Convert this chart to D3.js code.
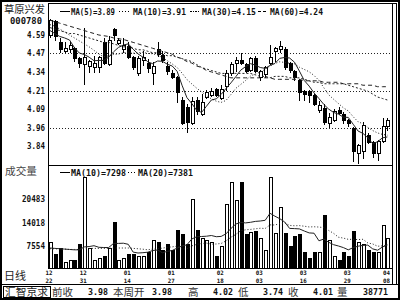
<!DOCTYPE html>
<html>
<head>
<meta charset="utf-8">
<script src="https://cdn.jsdelivr.net/npm/d3@7/dist/d3.min.js"></script>
<style>
    body { margin: 0; background: #fff; }
    svg { display: block; }
    .num { font-family: "DejaVu Sans Mono", monospace; font-weight: bold; fill: #111; }
    .cjk { font-family: "Noto Sans CJK SC", sans-serif; }
</style>
</head>
<body>
<svg id="chart" width="400" height="300"></svg>
<script>
// Daily candles, 12/22 .. 04/08
const opens = [4.59,4.68,4.54,4.48,4.49,4.50,4.43,4.39,4.38,4.37,
    4.37,4.54,4.39,4.63,4.53,4.49,4.51,4.44,4.33,4.42,
    4.40,4.33,4.49,4.45,4.38,4.33,4.30,4.15,4.10,3.99,
    4.15,4.05,4.17,4.18,4.22,4.16,4.24,4.33,4.40,4.42,
    4.39,4.35,4.43,4.30,4.32,4.40,4.48,4.49,4.49,4.40,
    4.34,4.28,4.21,4.21,4.18,4.08,4.09,3.99,4.01,4.08,
    4.05,4.01,3.96,3.79,3.80,3.91,3.86,3.79,3.87,3.97];
const highs = [4.70,4.69,4.57,4.54,4.55,4.51,4.44,4.64,4.42,4.45,
    4.45,4.57,4.58,4.64,4.57,4.57,4.54,4.45,4.45,4.48,
    4.43,4.41,4.54,4.48,4.41,4.35,4.31,4.17,4.12,4.17,
    4.17,4.19,4.22,4.23,4.23,4.25,4.35,4.41,4.44,4.47,
    4.40,4.44,4.45,4.35,4.38,4.52,4.51,4.55,4.51,4.41,
    4.35,4.29,4.22,4.22,4.19,4.14,4.12,4.06,4.09,4.10,
    4.07,4.02,3.97,3.85,4.00,3.93,3.87,3.88,4.03,4.03];
const lows = [4.57,4.55,4.47,4.47,4.47,4.41,4.37,4.25,4.33,4.33,
    4.33,4.39,4.38,4.55,4.52,4.47,4.43,4.35,4.31,4.38,
    4.33,4.25,4.44,4.40,4.32,4.29,4.13,3.98,3.93,3.98,
    4.05,4.04,4.16,4.17,4.17,4.15,4.21,4.31,4.34,4.39,
    4.33,4.34,4.33,4.28,4.30,4.39,4.41,4.47,4.35,4.33,
    4.28,4.14,4.14,4.13,4.11,4.06,3.98,3.96,4.00,4.05,
    3.99,3.97,3.73,3.72,3.75,3.85,3.76,3.74,3.86,3.94];
const closes = [4.69,4.58,4.49,4.50,4.52,4.43,4.40,4.44,4.41,4.40,
    4.44,4.40,4.55,4.59,4.55,4.52,4.44,4.37,4.43,4.44,
    4.36,4.38,4.46,4.42,4.34,4.30,4.20,3.99,4.00,4.14,
    4.07,4.13,4.20,4.21,4.18,4.22,4.33,4.39,4.42,4.40,
    4.34,4.43,4.34,4.34,4.37,4.44,4.50,4.51,4.37,4.35,
    4.30,4.20,4.19,4.18,4.12,4.11,4.00,4.03,4.07,4.06,
    4.01,3.99,3.80,3.84,3.98,3.86,3.79,3.87,3.97,4.01];
const volumes = [8650,5080,7000,2880,3700,3700,8100,26530,7000,3700,
    4250,4530,7000,14150,3700,4250,5080,5080,4530,4530,
    5630,9200,8380,6450,7830,6450,11950,10580,7830,20480,
    11950,9750,9200,8380,4530,7280,19100,25150,20200,24900,
    10580,11400,11680,9480,6450,26530,11130,18270,11130,7280,
    10030,10580,5900,4250,5630,5630,16080,9200,4530,3700,
    5630,4530,11680,8380,7830,6450,5630,5630,13330,9750];

// Moving averages
const ma5 = [4.62,4.60,4.58,4.57,4.556,4.504,4.468,4.458,4.44,4.416,
    4.418,4.418,4.44,4.476,4.506,4.522,4.53,4.494,4.462,4.44,
    4.408,4.396,4.414,4.412,4.392,4.38,4.344,4.25,4.166,4.126,
    4.08,4.066,4.108,4.15,4.158,4.188,4.228,4.266,4.308,4.352,
    4.376,4.396,4.386,4.37,4.364,4.384,4.398,4.432,4.438,4.434,
    4.406,4.346,4.282,4.244,4.198,4.16,4.12,4.088,4.066,4.054,
    4.034,4.032,3.986,3.94,3.924,3.894,3.854,3.868,3.894,3.90];
const ma10 = [4.66,4.65,4.63,4.61,4.59,4.57,4.55,4.53,4.51,4.486,
    4.461,4.443,4.449,4.458,4.461,4.47,4.474,4.467,4.469,4.473,
    4.465,4.463,4.454,4.437,4.416,4.394,4.37,4.332,4.289,4.259,
    4.23,4.205,4.179,4.158,4.142,4.134,4.147,4.187,4.229,4.255,
    4.282,4.312,4.326,4.339,4.358,4.38,4.397,4.409,4.404,4.399,
    4.395,4.372,4.357,4.341,4.316,4.283,4.233,4.185,4.155,4.126,
    4.097,4.076,4.037,4.003,3.989,3.964,3.943,3.927,3.917,3.912];
const ma30 = [4.64,4.63,4.62,4.61,4.60,4.60,4.59,4.58,4.57,4.56,
    4.55,4.54,4.54,4.53,4.52,4.51,4.51,4.50,4.49,4.49,
    4.48,4.47,4.47,4.46,4.45,4.45,4.44,4.43,4.42,4.41,
    4.39,4.37,4.36,4.35,4.34,4.33,4.33,4.33,4.33,4.33,
    4.33,4.33,4.32,4.31,4.31,4.30,4.31,4.31,4.31,4.30,
    4.30,4.30,4.29,4.28,4.27,4.27,4.26,4.26,4.26,4.26,
    4.26,4.25,4.24,4.23,4.22,4.21,4.19,4.17,4.16,4.15];
const ma60 = [4.69,4.68,4.67,4.66,4.65,4.64,4.63,4.62,4.61,4.60,
    4.59,4.585,4.58,4.57,4.565,4.56,4.55,4.54,4.53,4.52,
    4.51,4.50,4.49,4.48,4.47,4.46,4.44,4.43,4.41,4.40,
    4.38,4.37,4.35,4.34,4.33,4.32,4.31,4.30,4.30,4.30,
    4.30,4.30,4.30,4.30,4.30,4.30,4.29,4.29,4.29,4.29,
    4.29,4.29,4.28,4.28,4.28,4.28,4.27,4.27,4.27,4.27,
    4.26,4.26,4.26,4.26,4.25,4.25,4.25,4.24,4.24,4.24];
const volMa10 = [7000,6900,6800,6700,6600,6500,6500,7300,7400,7634,
    7194,7139,7139,8266,8266,8321,8019,5874,5627,5710,
    5848,6315,6453,5683,6096,6316,7003,7553,7883,9478,
    10110,10165,10247,10440,10110,10193,10908,12365,13602,14044,
    13907,14072,14320,14430,14622,16547,15750,15062,14155,12393,
    12338,12256,11678,11155,11073,8983,9478,8571,7911,7553,
    7113,6508,7086,7499,7719,7801,6756,6401,7281,7886];
const volMa20 = [6800,6800,6700,6700,6600,6600,6600,6900,6900,6900,
    6900,6900,6900,7000,7000,7000,7000,6900,6800,6672,
    6521,6727,6796,6975,7181,7319,7511,6714,6755,7594,
    7979,8240,8350,8062,8103,8255,8956,9959,10743,11761,
    12009,12119,12284,12435,12366,13370,13329,13714,13879,13219,
    13123,13164,12999,12793,12848,12765,12614,11817,11033,9973,
    9726,9382,9382,9327,9396,8392,8117,7486,7596,7720];

// Axis labels
const priceTicks = [4.59, 4.47, 4.34, 4.21, 4.09, 3.96, 3.84];
const priceGrid = [4.47, 4.21, 3.96];
const volTicks = [20483, 14018, 7554];
const dateIdx = [0, 7, 16, 25, 35, 43, 52, 61, 69];
const dateMonth = ["12", "12", "01", "01", "02", "03", "03", "03", "04"];
const dateDay = ["22", "31", "14", "27", "18", "03", "16", "29", "08"];

// Legend / footer text
const priceLegend = ["MA(5)=3.89", "MA(10)=3.91", "MA(30)=4.15", "MA(60)=4.24"];
const volLegend = ["MA(10)=7298", "MA(20)=7381"];
const footerLabels = ["前收", "本周开", "高", "低", "收", "量"];
const footerValues = ["3.98", "3.98", "4.02", "3.74", "4.01", "38771"];

function renderChart() {
    const svg = d3.select("#chart");
    svg.selectAll("*").remove();

    const left = 48, right = 392;
    const volBase = 268;

    const x = d3.scaleLinear().domain([0, closes.length - 1]).range([50, 387.4]);
    const yP = d3.scaleLinear().domain([3.84, 4.59]).range([145.8, 35]);
    const yV = d3.scaleLinear().domain([7554, 20483]).range([246, 199]);

    svg.append("rect").attr("width", 400).attr("height", 300).attr("fill", "#fff");

    // Frame lines
    const frame = svg.append("g")
        .attr("stroke", "#000")
        .attr("shape-rendering", "crispEdges");
    frame.append("rect")
        .attr("x", 1).attr("y", 1).attr("width", 398).attr("height", 298)
        .attr("fill", "none").attr("stroke-width", 2);
    const hv = [
        [left + 0.5, 3, left + 0.5, volBase],
        [left, 3.5, 397, 3.5],
        [right + 0.5, 3, right + 0.5, 284],
        [396.5, 3, 396.5, 284],
        [left, 165.5, right, 165.5],
        [left, volBase + 0.5, right, volBase + 0.5],
        [0, 284.5, 400, 284.5]
    ];
    hv.forEach(l => {
        frame.append("line")
            .attr("x1", l[0]).attr("y1", l[1])
            .attr("x2", l[2]).attr("y2", l[3]);
    });
    frame.append("rect")
        .attr("x", 3.5).attr("y", 286.5).attr("width", 47).attr("height", 11)
        .attr("fill", "none");

    // Dotted grid
    svg.append("g").selectAll("line")
        .data(priceGrid)
        .enter().append("line")
        .attr("x1", left + 2).attr("x2", right - 2)
        .attr("y1", d => Math.round(yP(d)) + 0.5)
        .attr("y2", d => Math.round(yP(d)) + 0.5)
        .attr("stroke", "#222")
        .attr("stroke-dasharray", "1,2")
        .attr("shape-rendering", "crispEdges");

    // Price axis labels
    svg.append("g").selectAll("text")
        .data(priceTicks)
        .enter().append("text")
        .attr("class", "num")
        .attr("x", 45)
        .attr("y", d => yP(d) + 3)
        .attr("text-anchor", "end")
        .attr("font-size", "9px")
        .attr("textLength", 18)
        .attr("lengthAdjust", "spacingAndGlyphs")
        .text(d => d.toFixed(2));

    // Volume axis labels
    svg.append("g").selectAll("text")
        .data(volTicks)
        .enter().append("text")
        .attr("class", "num")
        .attr("x", 45)
        .attr("y", d => yV(d) + 3)
        .attr("text-anchor", "end")
        .attr("font-size", "9px")
        .attr("textLength", d => String(d).length * 4.6)
        .attr("lengthAdjust", "spacingAndGlyphs")
        .text(d => d);

    // Stock name / code
    svg.append("text").attr("class", "cjk")
        .attr("x", 4).attr("y", 13)
        .attr("font-size", "10.5px").attr("fill", "#222")
        .attr("textLength", 41).attr("lengthAdjust", "spacingAndGlyphs")
        .text("草原兴发");
    svg.append("text").attr("class", "num")
        .attr("x", 10).attr("y", 23.5)
        .attr("font-size", "9px")
        .attr("textLength", 32).attr("lengthAdjust", "spacingAndGlyphs")
        .text("000780");
    svg.append("text").attr("class", "cjk")
        .attr("x", 5).attr("y", 174.5)
        .attr("font-size", "10.5px").attr("fill", "#444")
        .attr("textLength", 32).attr("lengthAdjust", "spacingAndGlyphs")
        .text("成交量");
    svg.append("text").attr("class", "cjk")
        .attr("x", 4).attr("y", 280)
        .attr("font-size", "11px").attr("fill", "#222")
        .attr("textLength", 22).attr("lengthAdjust", "spacingAndGlyphs")
        .text("日线");

    // Candles
    const candles = svg.append("g").attr("shape-rendering", "crispEdges");
    closes.forEach((c, i) => {
        const o = opens[i];
        const up = c >= o;
        const cx = Math.round(x(i)) + 0.5;
        const top = yP(Math.max(o, c));
        const bot = yP(Math.min(o, c));
        const h = Math.max(1, bot - top);
        if (up) {
            candles.append("line")
                .attr("x1", cx).attr("x2", cx)
                .attr("y1", yP(highs[i])).attr("y2", top)
                .attr("stroke", "#000");
            candles.append("line")
                .attr("x1", cx).attr("x2", cx)
                .attr("y1", top + h).attr("y2", yP(lows[i]))
                .attr("stroke", "#000");
        } else {
            candles.append("line")
                .attr("x1", cx).attr("x2", cx)
                .attr("y1", yP(highs[i])).attr("y2", yP(lows[i]))
                .attr("stroke", "#000");
        }
        candles.append("rect")
            .attr("x", cx - 1.5).attr("width", 3)
            .attr("y", top).attr("height", h)
            .attr("fill", up ? "#fff" : "#000")
            .attr("stroke", "#000");
    });

    // Price moving averages
    const priceLine = d3.line().x((d, i) => x(i)).y(d => yP(d));
    const maStyles = [
        { data: ma5, dash: null },
        { data: ma10, dash: "1,2" },
        { data: ma30, dash: "2,2" },
        { data: ma60, dash: "4,3" }
    ];
    maStyles.forEach(m => {
        svg.append("path")
            .attr("d", priceLine(m.data))
            .attr("fill", "none")
            .attr("stroke", "#222")
            .attr("stroke-width", 1)
            .attr("stroke-dasharray", m.dash);
    });

    // Volume bars
    const vol = svg.append("g").attr("shape-rendering", "crispEdges");
    vol.selectAll("rect")
        .data(volumes)
        .enter().append("rect")
        .attr("x", (d, i) => Math.round(x(i)) + 0.5 - 1.5)
        .attr("width", 3)
        .attr("y", d => yV(d))
        .attr("height", d => volBase - yV(d))
        .attr("fill", (d, i) => closes[i] >= opens[i] ? "#fff" : "#000")
        .attr("stroke", "#000");

    const volLine = d3.line().x((d, i) => x(i)).y(d => yV(d));
    svg.append("path")
        .attr("d", volLine(volMa10))
        .attr("fill", "none").attr("stroke", "#222");
    svg.append("path")
        .attr("d", volLine(volMa20))
        .attr("fill", "none").attr("stroke", "#222")
        .attr("stroke-dasharray", "1,2");

    // Legends
    function legend(items, y) {
        const g = svg.append("g");
        items.forEach(it => {
            g.append("line")
                .attr("x1", it.s0).attr("x2", it.s1)
                .attr("y1", y - 3.5).attr("y2", y - 3.5)
                .attr("stroke", "#000")
                .attr("stroke-dasharray", it.dash)
                .attr("shape-rendering", "crispEdges");
            g.append("text").attr("class", "num")
                .attr("x", it.t0).attr("y", y)
                .attr("font-size", "9px")
                .attr("textLength", it.t1 - it.t0)
                .attr("lengthAdjust", "spacingAndGlyphs")
                .text(it.text);
        });
    }
    legend([
        { s0: 60, s1: 70, t0: 71, t1: 115, dash: null, text: priceLegend[0] },
        { s0: 119, s1: 131, t0: 133, t1: 186, dash: "1,2", text: priceLegend[1] },
        { s0: 190, s1: 200, t0: 202, t1: 256, dash: "2,1,1,1", text: priceLegend[2] },
        { s0: 258, s1: 268, t0: 270, t1: 323, dash: "3,2", text: priceLegend[3] }
    ], 15);
    legend([
        { s0: 60, s1: 70, t0: 71, t1: 126, dash: null, text: volLegend[0] },
        { s0: 128, s1: 137, t0: 138, t1: 193, dash: "1,2", text: volLegend[1] }
    ], 175.5);

    // Date labels (month over day)
    const dates = svg.append("g");
    dateIdx.forEach((idx, k) => {
        const cx = x(idx) - 1;
        dates.append("text").attr("class", "num")
            .attr("x", cx).attr("y", 275)
            .attr("text-anchor", "middle")
            .attr("font-size", "6px")
            .attr("textLength", 7).attr("lengthAdjust", "spacingAndGlyphs")
            .text(dateMonth[k]);
        dates.append("text").attr("class", "num")
            .attr("x", cx).attr("y", 282.5)
            .attr("text-anchor", "middle")
            .attr("font-size", "6px")
            .attr("textLength", 7).attr("lengthAdjust", "spacingAndGlyphs")
            .text(dateDay[k]);
    });

    // Footer row
    svg.append("text").attr("class", "cjk")
        .attr("x", 5).attr("y", 296)
        .attr("font-size", "10.5px").attr("fill", "#222")
        .attr("textLength", 43).attr("lengthAdjust", "spacingAndGlyphs")
        .text("汇智京求");
    const labelX = [52, 113, 188, 238, 288, 337];
    const valueX = [88, 152, 213, 263, 313, 363];
    footerLabels.forEach((t, k) => {
        svg.append("text").attr("class", "cjk")
            .attr("x", labelX[k]).attr("y", 296)
            .attr("font-size", "10.5px").attr("fill", "#333")
            .text(t);
        svg.append("text").attr("class", "num")
            .attr("x", valueX[k]).attr("y", 294.5)
            .attr("font-size", "8.5px")
            .attr("textLength", footerValues[k].length * 5)
            .attr("lengthAdjust", "spacingAndGlyphs")
            .text(footerValues[k]);
    });
}

renderChart();
</script>
</body>
</html>
